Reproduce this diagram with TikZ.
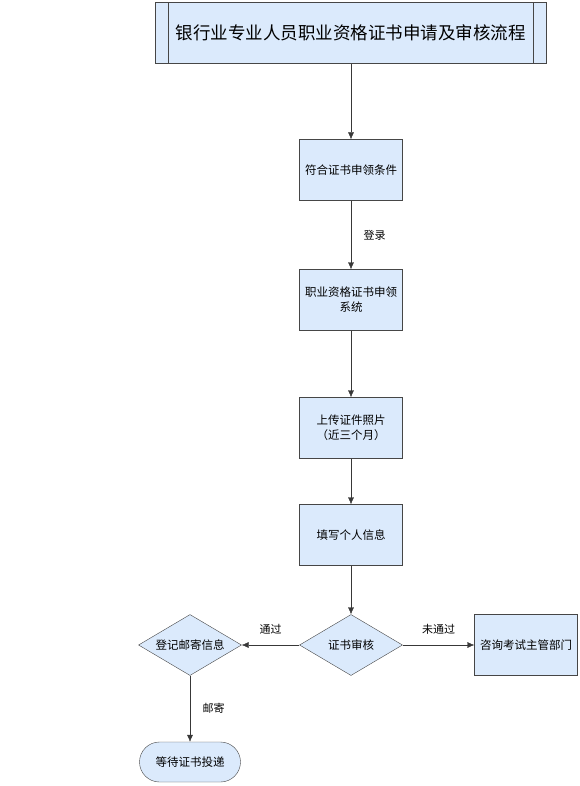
\documentclass[tikz,border=0pt]{standalone}
\usepackage{fontspec}
\setmainfont{Noto Sans CJK SC}
\usetikzlibrary{shapes.geometric,shapes.misc,arrows.meta}
\definecolor{boite}{RGB}{219,234,252}
\definecolor{trait}{RGB}{70,70,70}
\begin{document}
\begin{tikzpicture}[x=1pt,y=-1pt,
	boite/.style={draw=trait,fill=boite,minimum width=103pt,minimum height=61pt,
		align=center,font=\fontsize{11.5}{15}\selectfont,inner sep=1pt},
	losange/.style={boite,diamond,aspect=1.7,inner sep=0pt},
	terminal/.style={boite,rounded rectangle,minimum height=40pt},
	fleche/.style={draw=trait!80!black,-{Latex[length=7pt,width=6pt]}},
	etiq/.style={font=\fontsize{11}{13}\selectfont}]
			\useasboundingbox (0,0) rectangle (580,786);
			%Noeuds du diagramme
			\node[boite,minimum width=391pt,font=\fontsize{17.5}{22}\selectfont] (T) at (350.5,33) {银行业专业人员职业资格证书申请及审核流程};
			\draw[trait] ([xshift=13pt]T.north west)--([xshift=13pt]T.south west);
			\draw[trait] ([xshift=-13pt]T.north east)--([xshift=-13pt]T.south east);
			\node[boite] (B1) at (351,170) {符合证书申领条件};
			\node[boite] (B2) at (351,300) {职业资格证书申领\\系统};
			\node[boite] (B3) at (351,428) {上传证件照片\\（近三个月）};
			\node[boite] (B4) at (351,535) {填写个人信息};
			\node[losange] (D1) at (351,645) {证书审核};
			\node[losange] (D2) at (190,645) {登记邮寄信息};
			\node[boite] (B5) at (526,645) {咨询考试主管部门};
			\node[terminal] (F) at (190,762) {等待证书投递};
			%Flèches
			\draw[fleche] (T.south -| B1.north)--(B1);
			\draw[fleche] (B1)--node[etiq,right=9pt] {登录} (B2);
			\draw[fleche] (B2)--(B3);
			\draw[fleche] (B3)--(B4);
			\draw[fleche] (B4)--(D1);
			\draw[fleche] (D1)--node[etiq,above=7pt] {通过} (D2);
			\draw[fleche] (D1)--node[etiq,above=7pt] {未通过} (B5);
			\draw[fleche] (D2)--node[etiq,right=9pt] {邮寄} (F);
		\end{tikzpicture}
\end{document}
